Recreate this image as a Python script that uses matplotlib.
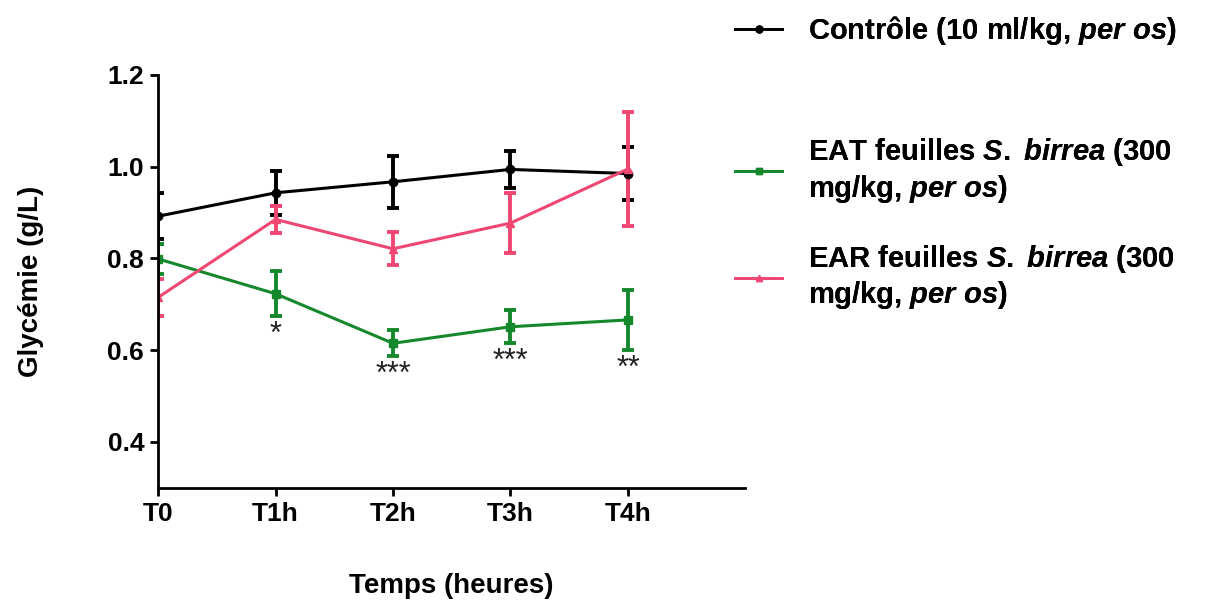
import matplotlib.pyplot as plt
from matplotlib.lines import Line2D

plt.rcParams['font.family'] = ['Liberation Sans', 'DejaVu Sans']
plt.rcParams['font.weight'] = 'bold'
plt.rcParams['axes.labelweight'] = 'bold'
plt.rcParams['mathtext.fontset'] = 'custom'
plt.rcParams['mathtext.rm'] = 'Liberation Sans:bold'
plt.rcParams['mathtext.it'] = 'Liberation Sans:bold:italic'

# data
times = ['T0', 'T1h', 'T2h', 'T3h', 'T4h']
ctrl_mean = [0.892, 0.943, 0.967, 0.994, 0.985]
ctrl_sem = [0.050, 0.048, 0.057, 0.040, 0.057]
eat_mean = [0.799, 0.723, 0.615, 0.651, 0.666]
eat_sem = [0.033, 0.049, 0.028, 0.036, 0.066]
ear_mean = [0.715, 0.885, 0.821, 0.877, 0.995]
ear_sem = [0.040, 0.030, 0.036, 0.065, 0.125]
stars = ['', '*', '***', '***', '**']

labels = ['Contrôle (10 ml/kg, $\\mathit{per\\ os}$)',
          'EAT feuilles $\\mathit{S.}$ $\\mathit{birrea}$ (300\nmg/kg, $\\mathit{per\\ os}$)',
          'EAR feuilles $\\mathit{S.}$ $\\mathit{birrea}$ (300\nmg/kg, $\\mathit{per\\ os)}$']

black = '#000000'
green = '#16882c'
pink = '#f04672'

fig = plt.figure(figsize=(12.16, 6.09), dpi=100)
ax = fig.add_axes([0.130, 0.199, 0.483, 0.678])

x = list(range(len(times)))
series = [(ctrl_mean, ctrl_sem, black, 'o', 6),
          (eat_mean, eat_sem, green, 's', 6),
          (ear_mean, ear_sem, pink, '^', 6)]
handles = []
for mean, sem, col, mk, ms in series:
    ax.errorbar(x, mean, yerr=sem, color=col, marker=mk, markersize=ms,
                linewidth=2.2, elinewidth=2.8, capsize=4.5, capthick=2.8)
    handles.append(Line2D([], [], color=col, marker=mk, markersize=5, linewidth=2))

for i, s in enumerate(stars):
    if s:
        ax.text(x[i], eat_mean[i] - eat_sem[i] - 0.008, s, ha='center', va='top',
                fontsize=22, fontweight='normal', color='#222222')

ax.set_xlim(0, 5)
ax.set_ylim(0.3, 1.2)
ax.set_xticks(x)
ax.set_xticklabels(times)
ax.set_yticks([0.4, 0.6, 0.8, 1.0, 1.2])
ax.set_yticklabels(['0.4', '0.6', '0.8', '1.0', '1.2'])
ax.tick_params(labelsize=19, width=2, length=6, pad=4)
for side in ['top', 'right']:
    ax.spines[side].set_visible(False)
for side in ['left', 'bottom']:
    ax.spines[side].set_linewidth(2)
ax.spines['left'].set_bounds(0.3, 1.2)

ax.set_ylabel('Glycémie (g/L)', fontsize=20, labelpad=46)
ax.set_xlabel('Temps (heures)', fontsize=20, labelpad=34)

# legend, one entry per block to match spacing
anchors = [(0.583, 0.950), (0.583, 0.720), (0.583, 0.545)]
for h, lab, anc in zip(handles, labels, anchors):
    lg = fig.legend([h], [lab], loc='center left', bbox_to_anchor=anc,
                    frameon=False, fontsize=21, handlelength=1.6,
                    handletextpad=0.9, labelspacing=0.2)
    fig.add_artist(lg)

fig.savefig('out.png', dpi=100)
